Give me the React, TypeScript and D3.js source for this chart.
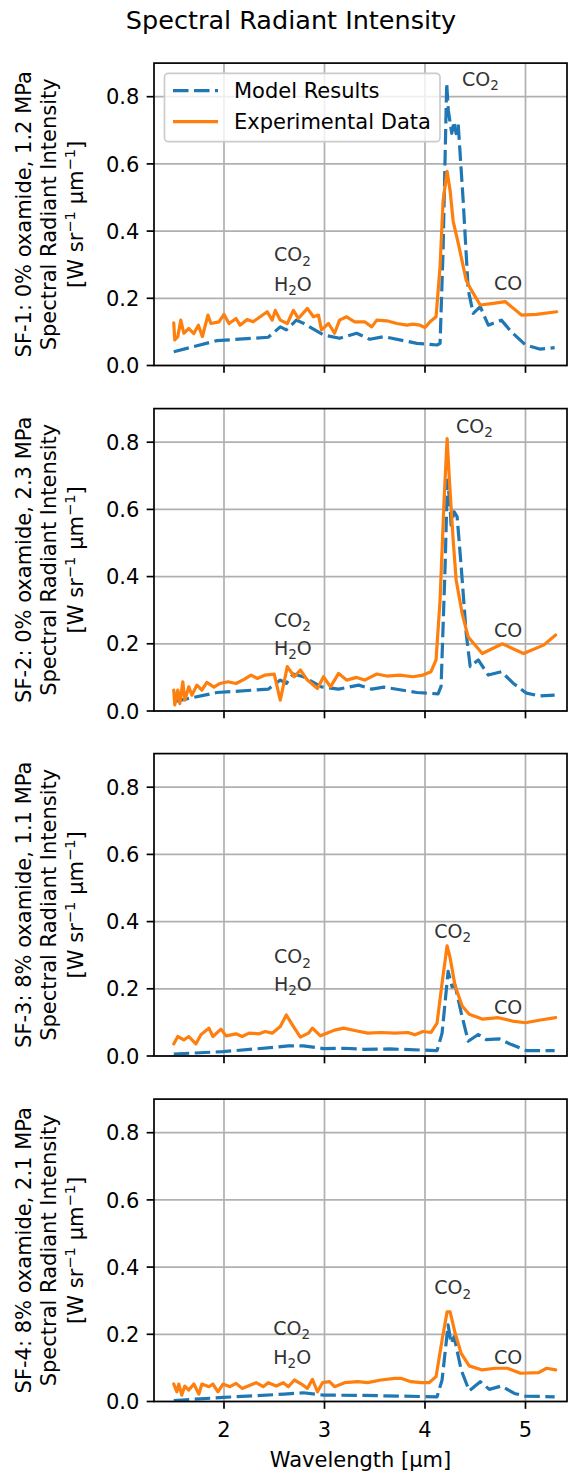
import React from 'react';
import * as d3 from 'd3';

// ---------------- data (wavelength [µm], intensity [W sr^-1 µm^-1]) ----------------
const panelLabels = [
  'SF-1: 0% oxamide, 1.2 MPa',
  'SF-2: 0% oxamide, 2.3 MPa',
  'SF-3: 8% oxamide, 1.1 MPa',
  'SF-4: 8% oxamide, 2.1 MPa',
];

const xTicks = [2, 3, 4, 5];
const yTicks = [0, 0.2, 0.4, 0.6, 0.8];
const yTickLabels = ['0.0', '0.2', '0.4', '0.6', '0.8'];
const seriesNames = ['Model Results', 'Experimental Data'];

const sf1Model: [number, number][] = [
  [1.5, 0.041], [1.93, 0.074], [2.44, 0.084], [2.56, 0.115], [2.62, 0.106], [2.72, 0.135], [2.79, 0.126],
  [2.99, 0.091], [3.15, 0.081], [3.32, 0.096], [3.45, 0.078], [3.59, 0.086], [3.92, 0.066], [4.12, 0.061],
  [4.15, 0.066], [4.18, 0.344], [4.216, 0.84], [4.232, 0.76], [4.266, 0.691], [4.289, 0.726], [4.31, 0.69],
  [4.33, 0.72], [4.38, 0.49], [4.43, 0.225], [4.48, 0.155], [4.55, 0.175], [4.63, 0.12], [4.76, 0.135],
  [4.86, 0.1], [5.0, 0.061], [5.14, 0.049], [5.29, 0.053],
];
const sf1Exp: [number, number][] = [
  [1.5, 0.127], [1.51, 0.076], [1.54, 0.086], [1.57, 0.135], [1.6, 0.096], [1.65, 0.11], [1.7, 0.095],
  [1.745, 0.12], [1.785, 0.086], [1.84, 0.15], [1.87, 0.125], [1.95, 0.13], [2.0, 0.152], [2.05, 0.125],
  [2.12, 0.14], [2.16, 0.12], [2.23, 0.137], [2.29, 0.13], [2.36, 0.145], [2.43, 0.16], [2.48, 0.135],
  [2.51, 0.164], [2.56, 0.135], [2.63, 0.125], [2.69, 0.164], [2.74, 0.14], [2.83, 0.17], [2.89, 0.145],
  [2.94, 0.15], [2.97, 0.106], [3.04, 0.125], [3.1, 0.096], [3.15, 0.135], [3.22, 0.145], [3.3, 0.13],
  [3.4, 0.13], [3.47, 0.115], [3.52, 0.135], [3.62, 0.133], [3.72, 0.125], [3.82, 0.12], [3.88, 0.123],
  [3.95, 0.12], [4.0, 0.113], [4.05, 0.13], [4.11, 0.145], [4.15, 0.295], [4.18, 0.49], [4.22, 0.578],
  [4.25, 0.52], [4.28, 0.43], [4.33, 0.365], [4.41, 0.254], [4.46, 0.225], [4.55, 0.18], [4.68, 0.185],
  [4.8, 0.19], [4.88, 0.17], [4.96, 0.15], [5.11, 0.152], [5.31, 0.16],
];

const sf2Model: [number, number][] = [
  [1.5, 0.028], [1.93, 0.055], [2.44, 0.065], [2.56, 0.092], [2.62, 0.082], [2.69, 0.11], [2.79, 0.102],
  [2.97, 0.072], [3.14, 0.065], [3.34, 0.077], [3.47, 0.065], [3.59, 0.071], [3.92, 0.055], [4.13, 0.051],
  [4.16, 0.073], [4.2, 0.43], [4.223, 0.687], [4.245, 0.628], [4.26, 0.553], [4.29, 0.593], [4.32, 0.578],
  [4.36, 0.43], [4.41, 0.231], [4.45, 0.132], [4.53, 0.152], [4.63, 0.107], [4.76, 0.117], [4.88, 0.082],
  [5.01, 0.053], [5.14, 0.045], [5.29, 0.047],
];
const sf2Exp: [number, number][] = [
  [1.5, 0.0625], [1.51, 0.018], [1.54, 0.0625], [1.56, 0.022], [1.59, 0.087], [1.61, 0.032], [1.65, 0.072],
  [1.68, 0.047], [1.73, 0.077], [1.78, 0.0625], [1.83, 0.085], [1.9, 0.071], [1.96, 0.082], [2.04, 0.087],
  [2.12, 0.082], [2.2, 0.094], [2.27, 0.107], [2.33, 0.097], [2.41, 0.107], [2.5, 0.11], [2.56, 0.032],
  [2.63, 0.132], [2.7, 0.102], [2.76, 0.122], [2.83, 0.092], [2.93, 0.067], [2.99, 0.102], [3.06, 0.072],
  [3.14, 0.112], [3.22, 0.092], [3.32, 0.1], [3.4, 0.092], [3.52, 0.11], [3.62, 0.104], [3.75, 0.107],
  [3.88, 0.102], [3.98, 0.107], [4.06, 0.117], [4.11, 0.152], [4.15, 0.33], [4.19, 0.628], [4.22, 0.811],
  [4.245, 0.677], [4.28, 0.51], [4.31, 0.39], [4.37, 0.29], [4.43, 0.22], [4.57, 0.171], [4.77, 0.2],
  [4.98, 0.171], [5.18, 0.196], [5.3, 0.226],
];

const sf3Model: [number, number][] = [
  [1.5, 0.006], [1.99, 0.013], [2.51, 0.026], [2.64, 0.03], [2.79, 0.03], [2.99, 0.022], [3.19, 0.023],
  [3.39, 0.02], [3.65, 0.021], [4.12, 0.016], [4.17, 0.068], [4.23, 0.252], [4.27, 0.206], [4.3, 0.21],
  [4.36, 0.129], [4.43, 0.044], [4.53, 0.064], [4.61, 0.049], [4.74, 0.051], [4.86, 0.034], [5.01, 0.016],
  [5.29, 0.016],
];
const sf3Exp: [number, number][] = [
  [1.5, 0.036], [1.54, 0.058], [1.6, 0.048], [1.65, 0.058], [1.72, 0.036], [1.77, 0.063], [1.85, 0.083],
  [1.89, 0.058], [1.97, 0.08], [2.02, 0.06], [2.12, 0.066], [2.18, 0.058], [2.25, 0.068], [2.35, 0.066],
  [2.41, 0.073], [2.48, 0.068], [2.56, 0.088], [2.62, 0.122], [2.69, 0.088], [2.76, 0.056], [2.84, 0.068],
  [2.88, 0.083], [2.96, 0.06], [3.04, 0.07], [3.1, 0.077], [3.19, 0.083], [3.3, 0.076], [3.43, 0.068],
  [3.56, 0.07], [3.7, 0.068], [3.83, 0.07], [3.9, 0.063], [3.98, 0.073], [4.06, 0.07], [4.12, 0.098],
  [4.17, 0.217], [4.22, 0.328], [4.25, 0.292], [4.3, 0.208], [4.37, 0.149], [4.44, 0.124], [4.57, 0.11],
  [4.73, 0.114], [4.87, 0.104], [5.0, 0.099], [5.15, 0.107], [5.3, 0.114],
];

const sf4Model: [number, number][] = [
  [1.5, 0.003], [1.99, 0.012], [2.6, 0.022], [2.79, 0.026], [2.99, 0.019], [3.39, 0.018], [4.12, 0.014],
  [4.17, 0.064], [4.23, 0.228], [4.26, 0.173], [4.29, 0.193], [4.36, 0.094], [4.44, 0.032], [4.55, 0.059],
  [4.64, 0.036], [4.76, 0.046], [4.89, 0.024], [5.0, 0.016], [5.29, 0.014],
];
const sf4Exp: [number, number][] = [
  [1.5, 0.052], [1.53, 0.029], [1.55, 0.052], [1.58, 0.019], [1.61, 0.046], [1.65, 0.034], [1.7, 0.052],
  [1.75, 0.022], [1.78, 0.052], [1.85, 0.044], [1.89, 0.052], [1.94, 0.029], [1.99, 0.052], [2.06, 0.044],
  [2.12, 0.054], [2.18, 0.039], [2.24, 0.046], [2.32, 0.056], [2.39, 0.044], [2.44, 0.056], [2.52, 0.046],
  [2.59, 0.056], [2.64, 0.044], [2.7, 0.064], [2.77, 0.052], [2.83, 0.039], [2.88, 0.066], [2.93, 0.029],
  [2.98, 0.056], [3.05, 0.059], [3.1, 0.044], [3.2, 0.056], [3.33, 0.059], [3.43, 0.056], [3.56, 0.064],
  [3.7, 0.069], [3.76, 0.069], [3.86, 0.059], [3.96, 0.056], [4.04, 0.056], [4.11, 0.074], [4.17, 0.183],
  [4.22, 0.267], [4.25, 0.267], [4.3, 0.203], [4.36, 0.143], [4.44, 0.106], [4.57, 0.094], [4.7, 0.099],
  [4.82, 0.099], [4.95, 0.084], [5.13, 0.086], [5.21, 0.099], [5.3, 0.094],
];

const modelSeries = [sf1Model, sf2Model, sf3Model, sf4Model];
const expSeries = [sf1Exp, sf2Exp, sf3Exp, sf4Exp];

// annotation anchor points (data coords) per panel: [x, y]
const annoPeakCO2: [number, number][] = [[4.368, 0.832], [4.308, 0.828], [4.093, 0.352], [4.093, 0.319]];
const annoBandCO2: [number, number][] = [[2.497, 0.31], [2.497, 0.251], [2.497, 0.276], [2.49, 0.198]];
const annoBandH2O: [number, number][] = [[2.497, 0.223], [2.497, 0.167], [2.497, 0.194], [2.49, 0.112]];
const annoCO: [number, number][] = [[4.687, 0.225], [4.687, 0.219], [4.687, 0.124], [4.687, 0.112]];

// ---------------- layout ----------------
const W = 573;
const H = 1478;
const FONT = "'DejaVu Sans', sans-serif";
const LEFT = 154;
const RIGHT = 567;
const PANEL_H = 302.4;
const BOTTOMS = [365.5, 711, 1056, 1401.5];
const BLUE = '#1f77b4';
const ORANGE = '#ff7f0e';
const FS = 21;
const LW = 3.2;
const DASH = '15.5 5.5';

const x = d3.scaleLinear().domain([1.3035, 5.413]).range([LEFT, RIGHT]);

function Sub({ t }: { t: string }) {
  return (
    <tspan dy={4.5} fontSize={13.5}>{t}</tspan>
  );
}

function Panel({ idx }: { idx: number }) {
  const bottom = BOTTOMS[idx];
  const top = bottom - PANEL_H;
  const y = d3.scaleLinear().domain([0, 0.9]).range([bottom, top]);
  const line = d3
    .line<[number, number]>()
    .x((d) => x(d[0]))
    .y((d) => y(d[1]));
  const clipId = `clip${idx}`;
  const cy = (top + bottom) / 2;
  const annoFs = 19;
  const annoColor = '#333';
  const textAt = (p: [number, number], body: React.ReactNode, key: string) => (
    <text key={key} x={x(p[0])} y={y(p[1])} fontSize={annoFs} fill={annoColor} fontFamily={FONT}>
      {body}
    </text>
  );
  return (
    <g>
      <defs>
        <clipPath id={clipId}>
          <rect x={LEFT} y={top} width={RIGHT - LEFT} height={PANEL_H} />
        </clipPath>
      </defs>
      {/* grid */}
      {xTicks.map((t) => (
        <line key={'gx' + t} x1={x(t)} x2={x(t)} y1={top} y2={bottom} stroke="#b0b0b0" strokeWidth={1.7} />
      ))}
      {yTicks.map((t) => (
        <line key={'gy' + t} x1={LEFT} x2={RIGHT} y1={y(t)} y2={y(t)} stroke="#b0b0b0" strokeWidth={1.7} />
      ))}
      {/* data */}
      <g clipPath={`url(#${clipId})`}>
        <path d={line(modelSeries[idx]) || ''} fill="none" stroke={BLUE} strokeWidth={LW} strokeDasharray={DASH} strokeLinejoin="round" />
        <path d={line(expSeries[idx]) || ''} fill="none" stroke={ORANGE} strokeWidth={LW} strokeLinejoin="round" strokeLinecap="round" />
      </g>
      {/* annotations */}
      {textAt(annoPeakCO2[idx], <>CO<Sub t="2" /></>, 'a1')}
      {textAt(annoBandCO2[idx], <>CO<Sub t="2" /></>, 'a2')}
      {textAt(annoBandH2O[idx], <>H<Sub t="2" /><tspan dy={-4.5}>O</tspan></>, 'a3')}
      {textAt(annoCO[idx], <>CO</>, 'a4')}
      {/* spines */}
      <rect x={LEFT} y={top} width={RIGHT - LEFT} height={PANEL_H} fill="none" stroke="#000" strokeWidth={1.7} />
      {/* y ticks */}
      {yTicks.map((t, i) => (
        <g key={'yt' + t}>
          <line x1={LEFT - 7.35} x2={LEFT} y1={y(t)} y2={y(t)} stroke="#000" strokeWidth={1.7} />
          <text x={LEFT - 14.7} y={y(t) + 7.6} textAnchor="end" fontSize={FS} fontFamily={FONT} fill="#000">
            {yTickLabels[i]}
          </text>
        </g>
      ))}
      {/* x ticks */}
      {xTicks.map((t) => (
        <line key={'xt' + t} x1={x(t)} x2={x(t)} y1={bottom} y2={bottom + 7.35} stroke="#000" strokeWidth={1.7} />
      ))}
      {idx === 3 &&
        xTicks.map((t) => (
          <text key={'xl' + t} x={x(t)} y={bottom + 35.5} textAnchor="middle" fontSize={FS} fontFamily={FONT} fill="#000">
            {t}
          </text>
        ))}
      {/* y label (3 lines) */}
      <g fontSize={FS} fontFamily={FONT} fill="#000" textAnchor="middle">
        <text transform={`translate(31,${cy}) rotate(-90)`}>{panelLabels[idx]}</text>
        <text transform={`translate(55.5,${cy}) rotate(-90)`}>Spectral Radiant Intensity</text>
        <text transform={`translate(83,${cy}) rotate(-90)`}>
          [W sr<tspan dy={-8} fontSize={14.7}>−1</tspan>
          <tspan dy={8}> µm</tspan>
          <tspan dy={-8} fontSize={14.7}>−1</tspan>
          <tspan dy={8}>]</tspan>
        </text>
      </g>
      {/* legend */}
      {idx === 0 && (
        <g>
          <rect x={164.5} y={73.3} width={275.5} height={68.4} rx={4} fill="#fff" fillOpacity={0.8} stroke="#cccccc" strokeWidth={1.7} />
          <line x1={173} x2={218} y1={90.7} y2={90.7} stroke={BLUE} strokeWidth={LW} strokeDasharray={DASH} />
          <line x1={173} x2={218} y1={121.7} y2={121.7} stroke={ORANGE} strokeWidth={LW} />
          <text x={234} y={98.2} fontSize={FS} fontFamily={FONT} fill="#000">{seriesNames[0]}</text>
          <text x={234} y={129.2} fontSize={FS} fontFamily={FONT} fill="#000">{seriesNames[1]}</text>
        </g>
      )}
    </g>
  );
}

export default function App() {
  return (
    <svg
      width={W}
      height={H}
      viewBox={`0 0 ${W} ${H}`}
      style={{ position: 'absolute', left: 0, top: 0, background: '#fff' }}
    >
      <rect x={0} y={0} width={W} height={H} fill="#fff" />
      <text x={291} y={29} textAnchor="middle" fontSize={25.5} fontFamily={FONT} fill="#000">
        Spectral Radiant Intensity
      </text>
      {[0, 1, 2, 3].map((i) => (
        <Panel key={i} idx={i} />
      ))}
      <text x={(LEFT + RIGHT) / 2} y={1467} textAnchor="middle" fontSize={FS} fontFamily={FONT} fill="#000">
        Wavelength [µm]
      </text>
    </svg>
  );
}
